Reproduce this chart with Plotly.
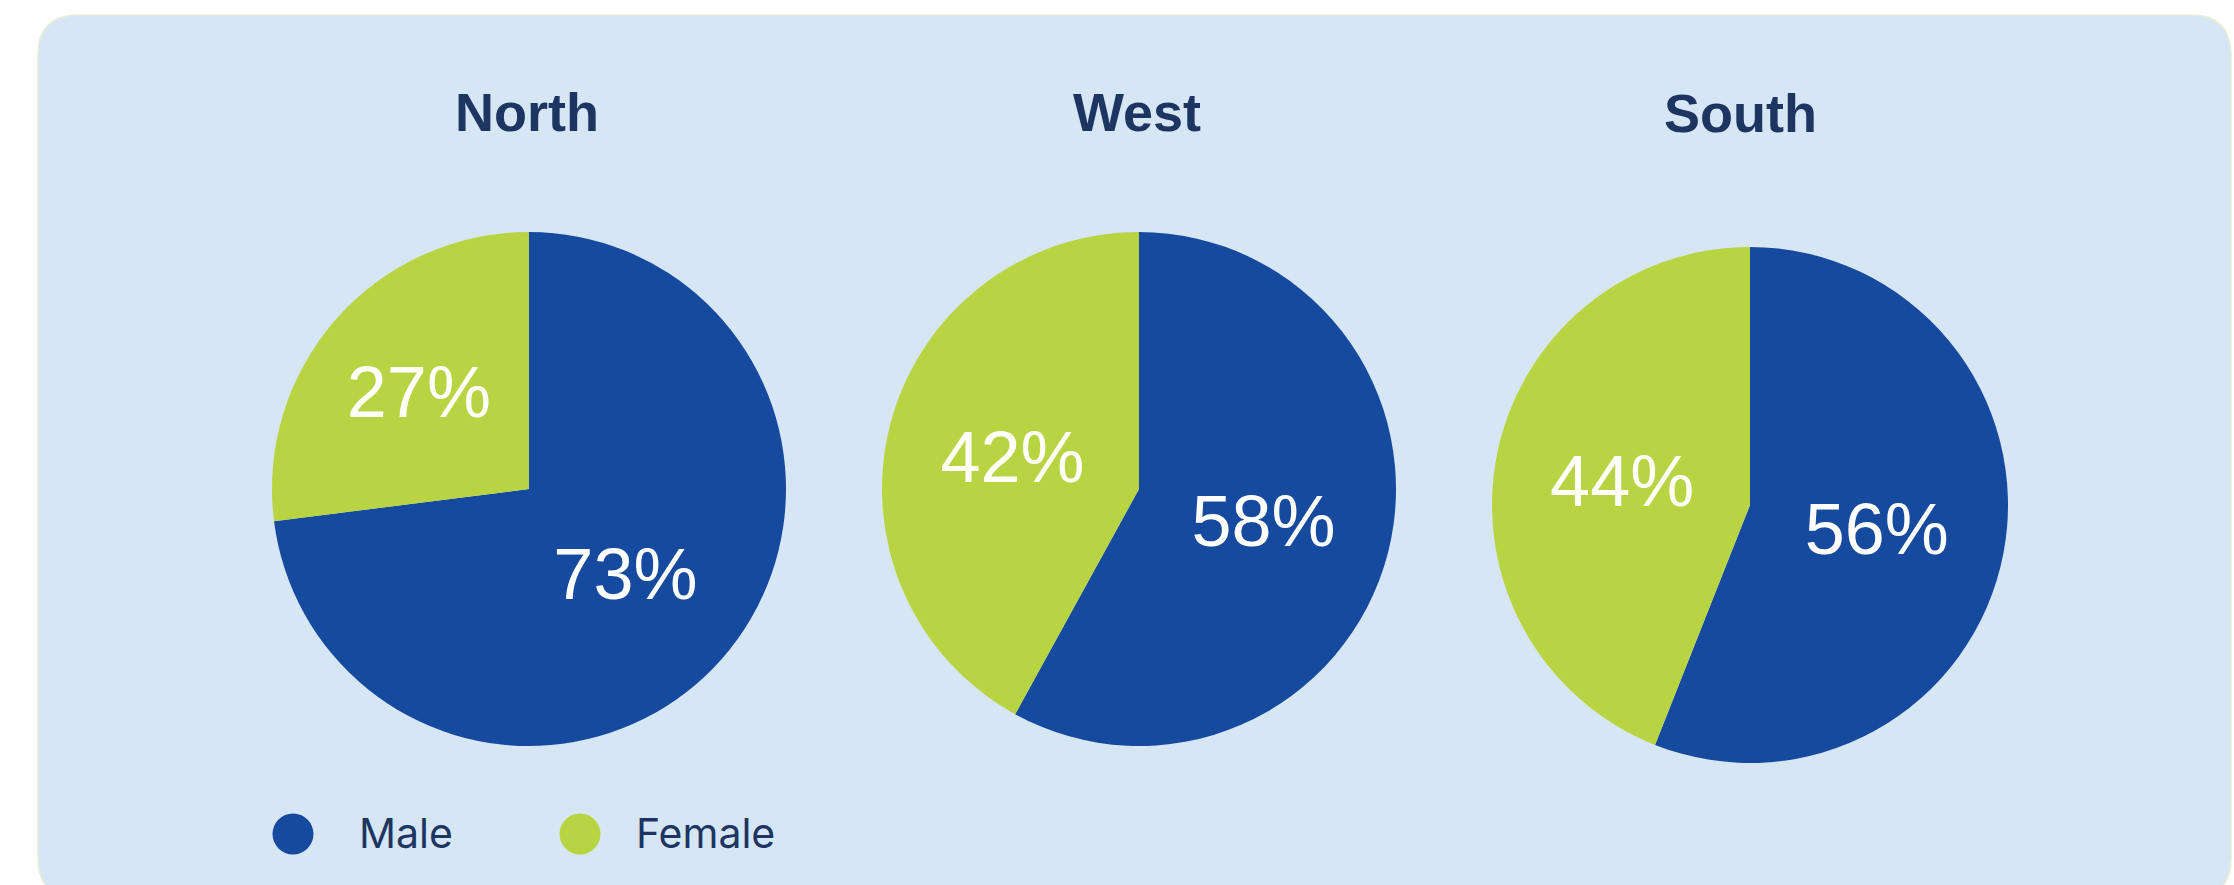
import plotly.graph_objects as go

W, H = 2234, 885

# ---- data ----
regions = ["North", "West", "South"]
genders = ["Male", "Female"]
male_pct = [73, 58, 56]
female_pct = [27, 42, 44]

# ---- style ----
colors = ["#164a9f", "#b8d443"]
card_color = "#d7e6f4"
title_color = "#1c3561"
label_font = "Liberation Sans, Arial, sans-serif"

# pie centers / radius in pixels (layout)
centers = [(529, 489), (1139, 489), (1750, 505)]
radii = [257, 257, 258]
title_pos = [(527, 112), (1137, 112), (1740, 113)]


def px_x(x):
    return x / W


def px_y(y):
    return 1 - y / H


fig = go.Figure()

for i, reg in enumerate(regions):
    cx, cy = centers[i]
    r = radii[i]
    fig.add_trace(go.Pie(
        labels=genders,
        values=[male_pct[i], female_pct[i]],
        name=reg,
        sort=False,
        direction="clockwise",
        rotation=0,
        marker=dict(colors=colors, line=dict(width=0)),
        texttemplate="%{value}%",
        textposition="inside",
        insidetextorientation="horizontal",
        insidetextfont=dict(family=label_font, size=72, color="white"),
        hoverinfo="label+percent",
        showlegend=False,
        domain=dict(x=[px_x(cx - r), px_x(cx + r)],
                    y=[px_y(cy + r), px_y(cy - r)]),
    ))

# rounded card background
L, T, R, B, rad = 38, 15, 2231, 898, 40
path = (
    f"M {px_x(L + rad)} {px_y(T)} "
    f"L {px_x(R - rad)} {px_y(T)} "
    f"Q {px_x(R)} {px_y(T)} {px_x(R)} {px_y(T + rad)} "
    f"L {px_x(R)} {px_y(B - rad)} "
    f"Q {px_x(R)} {px_y(B)} {px_x(R - rad)} {px_y(B)} "
    f"L {px_x(L + rad)} {px_y(B)} "
    f"Q {px_x(L)} {px_y(B)} {px_x(L)} {px_y(B - rad)} "
    f"L {px_x(L)} {px_y(T + rad)} "
    f"Q {px_x(L)} {px_y(T)} {px_x(L + rad)} {px_y(T)} Z"
)
shapes = [dict(type="path", xref="paper", yref="paper", path=path,
               fillcolor=card_color, line=dict(color="#e8edd6", width=1.5),
               layer="below")]

annotations = []
for i, reg in enumerate(regions):
    tx, ty = title_pos[i]
    annotations.append(dict(
        text=f"<b>{reg}</b>", x=px_x(tx), y=px_y(ty), xref="paper", yref="paper",
        xanchor="center", yanchor="middle", showarrow=False,
        font=dict(family=label_font, size=54, color=title_color)))

# legend (circle markers + labels)
legend_items = [(293, 357), (580, 634)]
legend_y = 834
for (mx, tx), g, c in zip(legend_items, genders, colors):
    shapes.append(dict(type="circle", xref="paper", yref="paper",
                       xsizemode="pixel", ysizemode="pixel",
                       xanchor=px_x(mx), yanchor=px_y(legend_y),
                       x0=-20.5, x1=20.5, y0=-20.5, y1=20.5,
                       fillcolor=c, line=dict(width=0)))
    annotations.append(dict(
        text=g, x=px_x(tx), y=px_y(legend_y - 1), xref="paper", yref="paper",
        xanchor="left", yanchor="middle", showarrow=False,
        font=dict(family="Inter, sans-serif", size=41, color=title_color)))

fig.update_layout(
    width=W, height=H,
    margin=dict(l=0, r=0, t=0, b=0),
    paper_bgcolor="white",
    plot_bgcolor="white",
    shapes=shapes,
    annotations=annotations,
    showlegend=False,
)

fig.write_html("out.html", config={"displayModeBar": False},
               post_script="document.body.style.margin='0';")
